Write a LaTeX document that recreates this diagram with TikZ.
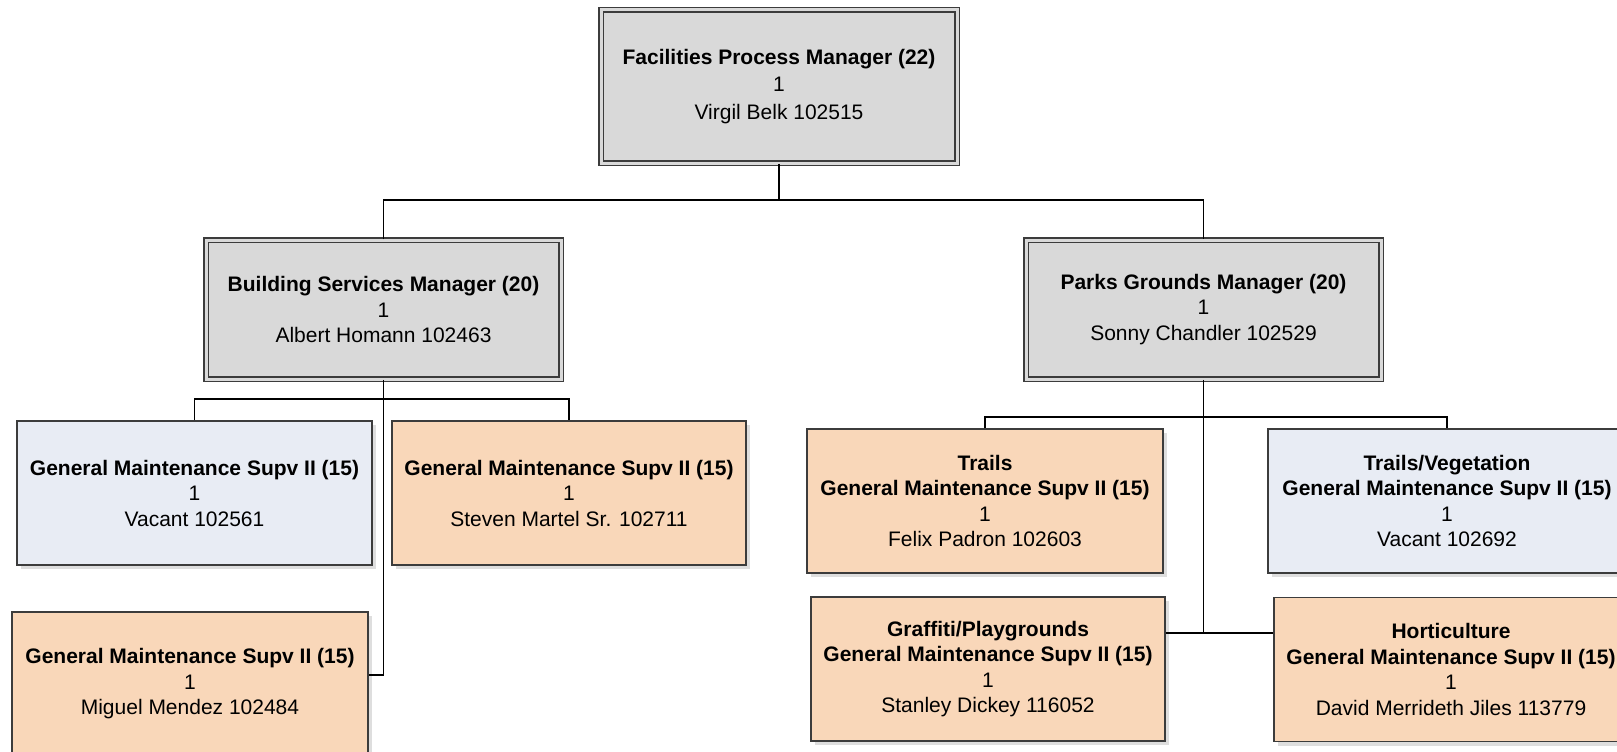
\documentclass[tikz,border=0pt]{standalone}
\usepackage{fontspec}
\setmainfont{Liberation Sans}
\usetikzlibrary{shadows}
\definecolor{mgrey}{RGB}{217,217,217}
\definecolor{vblue}{RGB}{232,236,244}
\definecolor{peach}{RGB}{249,215,185}
\definecolor{bline}{RGB}{60,60,60}
\begin{document}
\begin{tikzpicture}[x=1pt,y=-1pt,
  every node/.style={font=\fontsize{21}{25.5}\selectfont, align=center, inner sep=0pt},
  mgr/.style={draw=bline, line width=1.5pt, double=mgrey, double distance=3pt, fill=mgrey, minimum height=#1},
  mgr/.default=139pt,
  sup/.style={draw=bline, line width=1.3pt, minimum height=144pt, minimum width=355pt,
    drop shadow={shadow xshift=4pt, shadow yshift=-4pt, fill=black!13, opacity=1}},
  fillp/.style={sup, fill=peach},
  fillb/.style={sup, fill=vblue},
  conn/.style={draw=black, line width=1.6pt}
]
\useasboundingbox (0,0) rectangle (1617,752);
\clip (0,0) rectangle (1617,752);
\fill[white] (0,0) rectangle (1617,752);

% managers
\node[mgr=153pt, minimum width=356pt, font=\fontsize{21}{27.5}\selectfont] (top) at (779,86.5) {\textbf{Facilities Process Manager (22)}\\1\\Virgil Belk 102515};
\node[mgr, minimum width=355pt] (bs) at (383.5,309.5) {\textbf{Building Services Manager (20)}\\1\\Albert Homann 102463};
\node[mgr, minimum width=355pt] (pg) at (1203.5,309.5) {\textbf{Parks Grounds Manager (20)}\\1\\Sonny Chandler 102529};

% building services staff
\node[fillb] (g1) at (194.5,493) {\textbf{General Maintenance Supv II (15)}\\1\\Vacant 102561};
\node[fillp, minimum width=354pt] (g2) at (569,493) {\textbf{General Maintenance Supv II (15)}\\1\\Steven Martel Sr. 102711};
\node[fillp, minimum width=356pt] (g3) at (190,684) {\textbf{General Maintenance Supv II (15)}\\1\\Miguel Mendez 102484};

% parks staff
\node[fillp, minimum width=356pt] (tr) at (985,501) {\textbf{Trails}\\\textbf{General Maintenance Supv II (15)}\\1\\Felix Padron 102603};
\node[fillb, minimum width=358pt] (tv) at (1447,501) {\textbf{Trails/Vegetation}\\\textbf{General Maintenance Supv II (15)}\\1\\Vacant 102692};
\node[fillp, minimum width=354pt] (gr) at (988,669) {\textbf{Graffiti/Playgrounds}\\\textbf{General Maintenance Supv II (15)}\\1\\Stanley Dickey 116052};
\node[fillp, minimum width=354pt] (ho) at (1451,669.5) {\textbf{Horticulture}\\\textbf{General Maintenance Supv II (15)}\\1\\David Merrideth Jiles 113779};

% bus coordinates
\coordinate (bus1) at (0,200);
\coordinate (bus2) at (0,399);
\coordinate (bus3) at (0,417);
\coordinate (m3) at (384,675);
\coordinate (m4) at (1203.5,633);

% connectors
\draw[conn] (top.south) -- (top.south |- bus1);
\draw[conn] (bs.north) -- (bs.north |- bus1) -- (pg.north |- bus1) -- (pg.north);

\draw[conn] (bs.south) -- (bs.south |- m3) -- (m3 -| g3.east);
\draw[conn] (g1.north) -- (g1.north |- bus2) -- (g2.north |- bus2) -- (g2.north);

\draw[conn] (pg.south) -- (m4);
\draw[conn] (tr.north) -- (tr.north |- bus3) -- (tv.north |- bus3) -- (tv.north);
\draw[conn] (gr.east |- m4) -- (ho.west |- m4);
\end{tikzpicture}
\end{document}
